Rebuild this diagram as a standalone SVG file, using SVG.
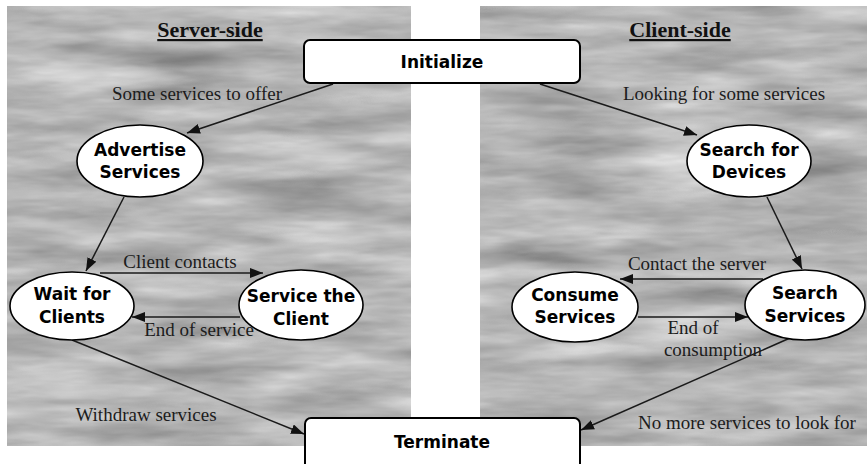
<svg xmlns="http://www.w3.org/2000/svg" width="867" height="464" viewBox="0 0 867 464">
<style>
.panel{fill:#b8b8b8;}
.node{fill:#ffffff;stroke:#000000;stroke-width:1.6;}
.box{fill:#ffffff;stroke:#000000;stroke-width:2;}
.nt{font-family:"DejaVu Sans",Verdana,sans-serif;font-weight:bold;font-size:17px;fill:#000;text-anchor:middle;dominant-baseline:central;}
.lbl{font-family:"Liberation Serif","Times New Roman",serif;font-size:19px;fill:#1c1c1c;text-anchor:middle;}
.head{font-family:"Liberation Serif","Times New Roman",serif;font-weight:bold;font-size:22px;fill:#111;text-anchor:middle;text-decoration:underline;}
.edge{fill:none;stroke:#1a1a1a;stroke-width:1.5;marker-end:url(#arr);}
</style>
<defs>
<marker id="arr" markerUnits="userSpaceOnUse" markerWidth="14" markerHeight="10" refX="13" refY="5" orient="auto">
<path d="M0,0 L13,5 L0,10 z" fill="#111"/>
</marker>
<filter id="tex" x="0" y="0" width="1" height="1" color-interpolation-filters="sRGB">
<feTurbulence type="fractalNoise" baseFrequency="0.008 0.045" numOctaves="4" seed="7" result="n"/>
<feColorMatrix in="n" type="matrix" values="0.33 0.33 0.33 0 0 0.33 0.33 0.33 0 0 0.33 0.33 0.33 0 0 0 0 0 0 1" result="g"/>
<feComponentTransfer in="g" result="m">
<feFuncR type="linear" slope="0.75" intercept="0.34"/>
<feFuncG type="linear" slope="0.75" intercept="0.34"/>
<feFuncB type="linear" slope="0.75" intercept="0.34"/>
</feComponentTransfer>
<feComposite in="m" in2="SourceGraphic" operator="in"/>
</filter>
</defs>
<rect width="867" height="464" fill="#ffffff"/>
<g id="panels">
<rect class="panel" x="7" y="6" width="404" height="440"/>
<rect class="panel" x="7" y="6" width="404" height="440" filter="url(#tex)"/>
<rect class="panel" x="480" y="6" width="387" height="440"/>
<rect class="panel" x="480" y="6" width="387" height="440" filter="url(#tex)"/>
<text class="head" x="210" y="37">Server-side</text>
<text class="head" x="680" y="37">Client-side</text>
</g>
<g id="connectors">
<line class="edge" x1="333" y1="84" x2="187" y2="133"/>
<line class="edge" x1="540" y1="84" x2="697" y2="135"/>
<line class="edge" x1="124" y1="197" x2="86" y2="271"/>
<line class="edge" x1="100" y1="273" x2="263" y2="273"/>
<line class="edge" x1="240" y1="317" x2="132" y2="317"/>
<line class="edge" x1="72" y1="340" x2="304" y2="434"/>
<line class="edge" x1="767" y1="197" x2="802" y2="269"/>
<line class="edge" x1="763" y1="279" x2="620" y2="279"/>
<line class="edge" x1="638" y1="317" x2="748" y2="317"/>
<line class="edge" x1="790" y1="338" x2="581" y2="430"/>
<text class="lbl" x="197" y="100">Some services to offer</text>
<text class="lbl" x="724" y="100">Looking for some services</text>
<text class="lbl" x="180" y="268">Client contacts</text>
<text class="lbl" x="199" y="336">End of service</text>
<text class="lbl" x="146" y="421">Withdraw services</text>
<text class="lbl" x="697" y="270">Contact the server</text>
<text class="lbl" x="693" y="334">End of</text>
<text class="lbl" x="713" y="356">consumption</text>
<text class="lbl" x="747" y="429">No more services to look for</text>
</g>
<g id="initialize">
<rect class="box" x="304" y="40" width="276" height="43" rx="6"/>
<text class="nt" x="442" y="62">Initialize</text>
</g>
<g id="terminate">
<rect class="box" x="305" y="418" width="275" height="60" rx="6"/>
<text class="nt" x="442" y="442">Terminate</text>
</g>
<g id="advertise">
<ellipse class="node" cx="140" cy="161" rx="63" ry="36"/>
<text class="nt" x="140" y="150">Advertise</text>
<text class="nt" x="140" y="172">Services</text>
</g>
<g id="wait">
<ellipse class="node" cx="72" cy="306" rx="62" ry="34"/>
<text class="nt" x="72" y="294">Wait for</text>
<text class="nt" x="72" y="317">Clients</text>
</g>
<g id="service">
<ellipse class="node" cx="301" cy="305" rx="62" ry="35"/>
<text class="nt" x="301" y="296">Service the</text>
<text class="nt" x="301" y="319">Client</text>
</g>
<g id="searchdevices">
<ellipse class="node" cx="749" cy="161" rx="62" ry="36"/>
<text class="nt" x="749" y="150">Search for</text>
<text class="nt" x="749" y="172">Devices</text>
</g>
<g id="consume">
<ellipse class="node" cx="575" cy="307" rx="63" ry="35"/>
<text class="nt" x="575" y="295">Consume</text>
<text class="nt" x="575" y="317">Services</text>
</g>
<g id="searchservices">
<ellipse class="node" cx="805" cy="305" rx="60" ry="35"/>
<text class="nt" x="805" y="293">Search</text>
<text class="nt" x="805" y="316">Services</text>
</g>
</svg>
